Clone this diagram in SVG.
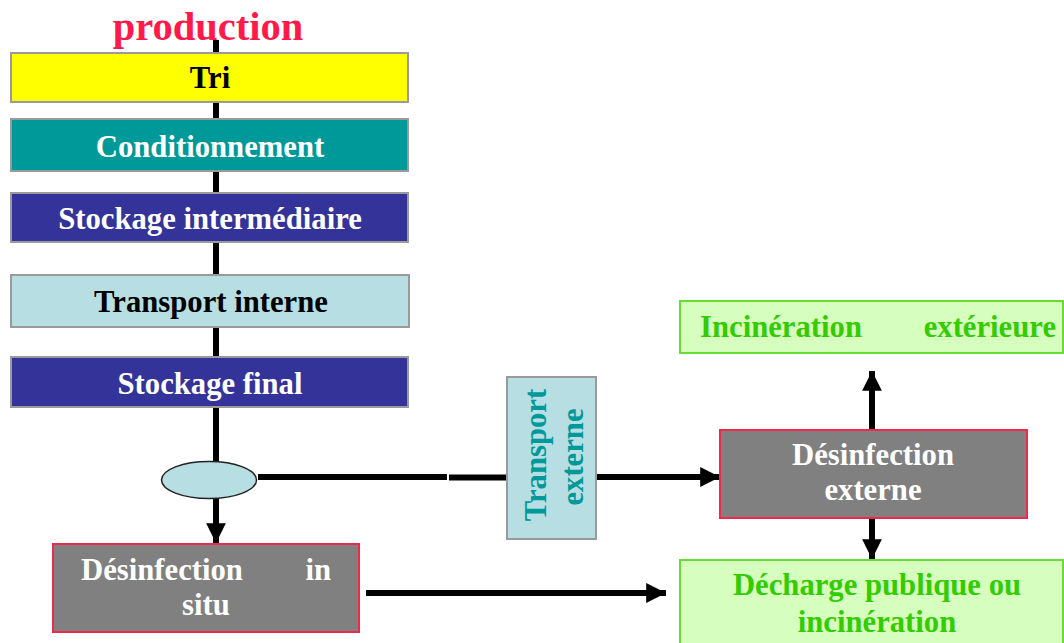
<svg xmlns="http://www.w3.org/2000/svg" width="1064" height="643" viewBox="0 0 1064 643">
<defs>
<marker id="ah" viewBox="0 0 10 10" refX="10" refY="5" markerWidth="3.3" markerHeight="3.3" orient="auto" markerUnits="strokeWidth">
<path d="M0,0 L10,5 L0,10 z" fill="#000"/>
</marker>
</defs>
<style>
text{font-family:"Liberation Serif","Times New Roman",serif;font-weight:bold;font-size:30.7px}
.box{stroke:#9a9a9a;stroke-width:2}
.gray{fill:#808080;stroke:#f0284c;stroke-width:2}
.green{fill:#d6ffbf;stroke:#66dd33;stroke-width:2}
.w{fill:#fff}
.k{fill:#000}
.g{fill:#33cc00}
.line{stroke:#000;stroke-width:6;fill:none}
</style>
<rect width="1064" height="643" fill="#fff"/>
<g id="connectors">
<line class="line" x1="216" y1="40" x2="216" y2="462"/>
<line class="line" x1="216" y1="499" x2="216" y2="543" marker-end="url(#ah)"/>
<line class="line" x1="258" y1="477" x2="447" y2="477"/>
<line class="line" x1="449" y1="477.5" x2="507" y2="477.5"/>
<line class="line" x1="596" y1="477" x2="720" y2="477" marker-end="url(#ah)"/>
<line class="line" x1="872" y1="429" x2="872" y2="371" marker-end="url(#ah)"/>
<line class="line" x1="872" y1="518" x2="872" y2="559" marker-end="url(#ah)"/>
<line class="line" x1="366" y1="593" x2="666" y2="593" marker-end="url(#ah)"/>
</g>
<g id="production">
<text x="208" y="40" text-anchor="middle" style="font-size:40.5px;fill:#ff1a4a">production</text>
</g>
<g id="tri">
<rect class="box" x="11" y="53" width="397" height="49" fill="#ffff00"/>
<text class="k" x="210" y="88" text-anchor="middle">Tri</text>
</g>
<g id="conditionnement">
<rect class="box" x="11" y="119" width="397" height="52" fill="#009999"/>
<text class="w" x="210" y="157" text-anchor="middle">Conditionnement</text>
</g>
<g id="stockage-intermediaire">
<rect class="box" x="11" y="193" width="397" height="49" fill="#333399"/>
<text class="w" x="210" y="229" text-anchor="middle">Stockage intermédiaire</text>
</g>
<g id="transport-interne">
<rect class="box" x="11" y="275" width="398" height="52" fill="#b7dee3"/>
<text class="k" x="211" y="312" text-anchor="middle">Transport interne</text>
</g>
<g id="stockage-final">
<rect class="box" x="11" y="357" width="397" height="50" fill="#333399"/>
<text class="w" x="210" y="394" text-anchor="middle">Stockage final</text>
</g>
<g id="ellipse">
<ellipse cx="209" cy="480" rx="47.5" ry="18.5" fill="#b7dee3" stroke="#222" stroke-width="1.5"/>
</g>
<g id="desinfection-in-situ">
<rect class="gray" x="53" y="544" width="306" height="88"/>
<text class="w" x="81" y="580">Désinfection</text>
<text class="w" x="331" y="580" text-anchor="end">in</text>
<text class="w" x="206" y="615" text-anchor="middle">situ</text>
</g>
<g id="transport-externe">
<rect class="box" x="507" y="377" width="89" height="162" fill="#b7dee3"/>
<text x="0" y="0" transform="translate(546,455) rotate(-90)" text-anchor="middle" style="fill:#009999">Transport</text>
<text x="0" y="0" transform="translate(583,457) rotate(-90)" text-anchor="middle" style="fill:#009999">externe</text>
</g>
<g id="desinfection-externe">
<rect class="gray" x="720" y="430" width="307" height="88"/>
<text class="w" x="873" y="465" text-anchor="middle">Désinfection</text>
<text class="w" x="873" y="500" text-anchor="middle">externe</text>
</g>
<g id="incineration-exterieure">
<rect class="green" x="680" y="301" width="383" height="52"/>
<text class="g" x="700" y="337">Incinération</text>
<text class="g" x="1056" y="337" text-anchor="end">extérieure</text>
</g>
<g id="decharge">
<rect class="green" x="680" y="560" width="383" height="90"/>
<text class="g" x="877" y="595" text-anchor="middle">Décharge publique ou</text>
<text class="g" x="877" y="632" text-anchor="middle">incinération</text>
</g>
</svg>
